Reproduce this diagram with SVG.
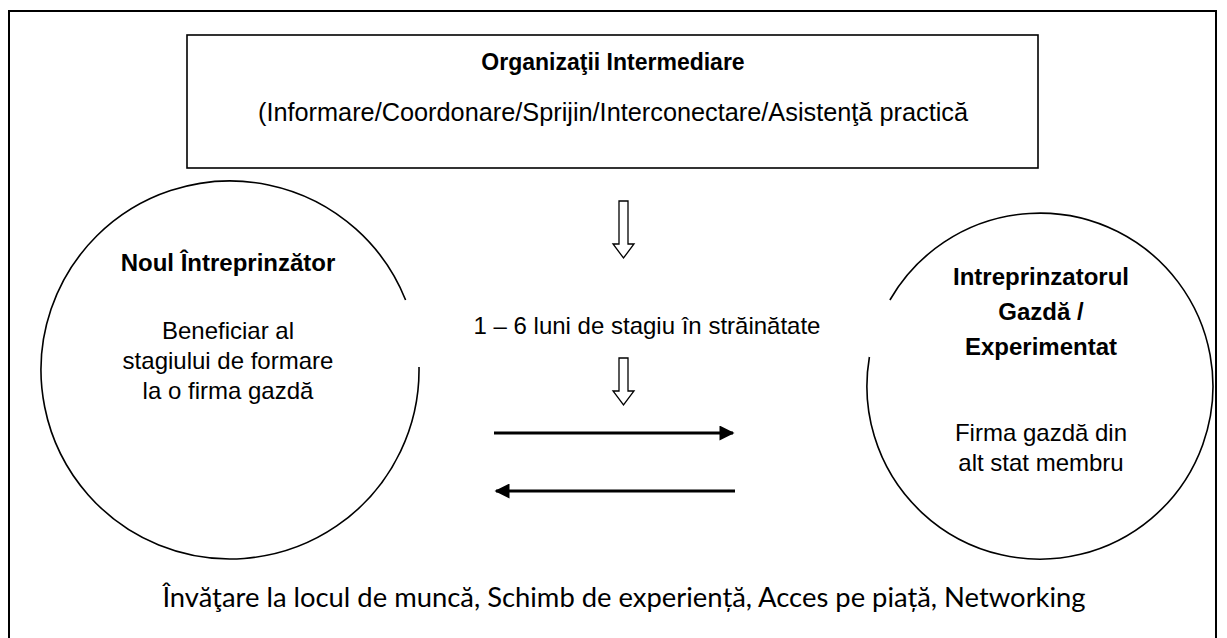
<svg xmlns="http://www.w3.org/2000/svg" width="1227" height="638" viewBox="0 0 1227 638">
<defs>
<style>
.ar{font-family:"Liberation Sans",Arial,sans-serif;font-size:24px;fill:#000;text-anchor:middle}
.b{font-weight:bold}
.cal{font-family:Lato,"Open Sans",sans-serif;font-size:27.4px;fill:#000;text-anchor:middle}
.ln{fill:none;stroke:#000;stroke-width:1.6}
.blk{fill:#fff;stroke:#000;stroke-width:1.3}
.con{stroke:#000;stroke-width:3;fill:none}
</style>
<marker id="ah" viewBox="0 0 10 10" refX="9" refY="5" markerWidth="5.5" markerHeight="5" orient="auto" markerUnits="strokeWidth">
<path d="M0 0 L10 5 L0 10 Z" fill="#000"/>
</marker>
</defs>
<rect x="0" y="0" width="1227" height="638" fill="#fff"/>
<rect id="frame" x="9" y="11" width="1207" height="650" fill="none" stroke="#000" stroke-width="2"/>
<g id="organizatii">
<rect x="187" y="35" width="851" height="133" fill="#fff" stroke="#000" stroke-width="1.6"/>
<text class="ar b" x="613" y="70" style="font-size:23px">Organizaţii Intermediare</text>
<text class="ar" x="613" y="121" style="font-size:25.3px">(Informare/Coordonare/Sprijin/Interconectare/Asistenţă practică</text>
</g>
<g id="noul">
<path class="ln" d="M405.6 300 A189 189 0 1 0 419 367"/>
<text class="ar b" x="228" y="271">Noul Întreprinzător</text>
<text class="ar" x="228" y="339">Beneficiar al</text>
<text class="ar" x="228" y="369">stagiului de formare</text>
<text class="ar" x="228" y="399">la o firma gazdă</text>
</g>
<g id="gazda">
<path class="ln" d="M889.9 300 A173 173 0 1 1 869.4 357"/>
<text class="ar b" x="1041" y="285">Intreprinzatorul</text>
<text class="ar b" x="1041" y="320">Gazdă /</text>
<text class="ar b" x="1041" y="355">Experimentat</text>
<text class="ar" x="1041" y="441">Firma gazdă din</text>
<text class="ar" x="1041" y="471">alt stat membru</text>
</g>
<g id="stagiu">
<text class="ar" x="647" y="334">1 – 6 luni de stagiu în străinătate</text>
</g>
<g id="connectors">
<path class="blk" d="M619 201 H628 V244 H634 L623.5 258 L613 244 H619 Z"/>
<path class="blk" d="M619 358 H628 V391 H634 L623.5 405 L613 391 H619 Z"/>
<line class="con" x1="494" y1="433" x2="733" y2="433" marker-end="url(#ah)"/>
<line class="con" x1="735" y1="491" x2="496" y2="491" marker-end="url(#ah)"/>
</g>
<g id="benefits">
<text class="cal" x="624" y="607">Învăţare la locul de muncă, Schimb de experiență, Acces pe piață, Networking</text>
</g>
</svg>
